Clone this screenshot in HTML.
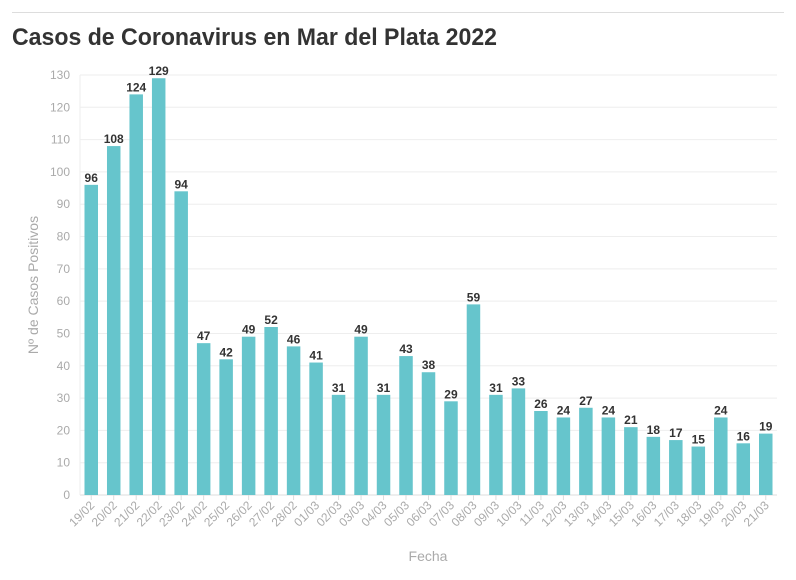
<!DOCTYPE html>
<html><head><meta charset="utf-8"><style>
body{margin:0;background:#fff;width:796px;height:575px;overflow:hidden;font-family:"Liberation Sans",sans-serif}
</style></head><body>
<svg width="796" height="575" xmlns="http://www.w3.org/2000/svg">
<line x1="12" y1="12.5" x2="784" y2="12.5" stroke="#ddd"/>
<text x="12" y="45" font-size="24" font-weight="bold" fill="#333" textLength="485" lengthAdjust="spacingAndGlyphs">Casos de Coronavirus en Mar del Plata 2022</text>
<g id="grid"></g><g id="bars"></g><g id="xt"></g>
<text transform="translate(38,285) rotate(-90)" text-anchor="middle" font-size="14" fill="#aaa">Nº de Casos Positivos</text>
<text x="428" y="561" text-anchor="middle" font-size="14" fill="#aaa">Fecha</text>
</svg>
<script>
const categories=["19/02","20/02","21/02","22/02","23/02","24/02","25/02","26/02","27/02","28/02","01/03","02/03","03/03","04/03","05/03","06/03","07/03","08/03","09/03","10/03","11/03","12/03","13/03","14/03","15/03","16/03","17/03","18/03","19/03","20/03","21/03"];
const values=[96,108,124,129,94,47,42,49,52,46,41,31,49,31,43,38,29,59,31,33,26,24,27,24,21,18,17,15,24,16,19];
const yTicks=[0,10,20,30,40,50,60,70,80,90,100,110,120,130];
const NS="http://www.w3.org/2000/svg";
const x0=80,x1=777,y0=495,yTop=75,yMax=130;
const step=(x1-x0)/categories.length;
const y=v=>y0-(v/yMax)*(y0-yTop);
const xc=i=>x0+step*(i+0.5);
function mk(t,a,p){const e=document.createElementNS(NS,t);for(const k in a)e.setAttribute(k,a[k]);p.appendChild(e);return e;}
const grid=document.getElementById('grid'),bars=document.getElementById('bars'),xt=document.getElementById('xt');
yTicks.forEach(t=>{
 const l=mk('line',{x1:x0,x2:x1,y1:y(t),y2:y(t),stroke:t===0?'#ddd':'#eee'},grid);
 
 
 const tx=mk('text',{x:x0-10,y:y(t)+4,'text-anchor':'end','font-size':12,fill:'#aaa'},grid);
 tx.textContent=t;
 
 
});
const ax=mk('line',{x1:x0,x2:x0,y1:yTop,y2:y0,stroke:'#eee'},grid);


values.forEach((v,i)=>{
 const bw=13.5;
 const r=mk('rect',{x:xc(i)-bw/2,y:y(v),width:bw,height:y0-y(v),fill:'#66c5cc'},bars);
 
 
 const t=mk('text',{x:xc(i),y:y(v)-3,'text-anchor':'middle','font-size':12,'font-weight':'bold',fill:'#333'},bars);
 t.textContent=v;
 
 
 const tk=mk('line',{x1:xc(i),x2:xc(i),y1:y0,y2:y0+5,stroke:'#ddd'},xt);
 
 
 const lb=mk('text',{transform:`translate(${xc(i)+4},${y0+11}) rotate(-45)`,'text-anchor':'end','font-size':12,fill:'#aaa'},xt);
 lb.textContent=categories[i];
 
 
});
</script>
</body></html>
